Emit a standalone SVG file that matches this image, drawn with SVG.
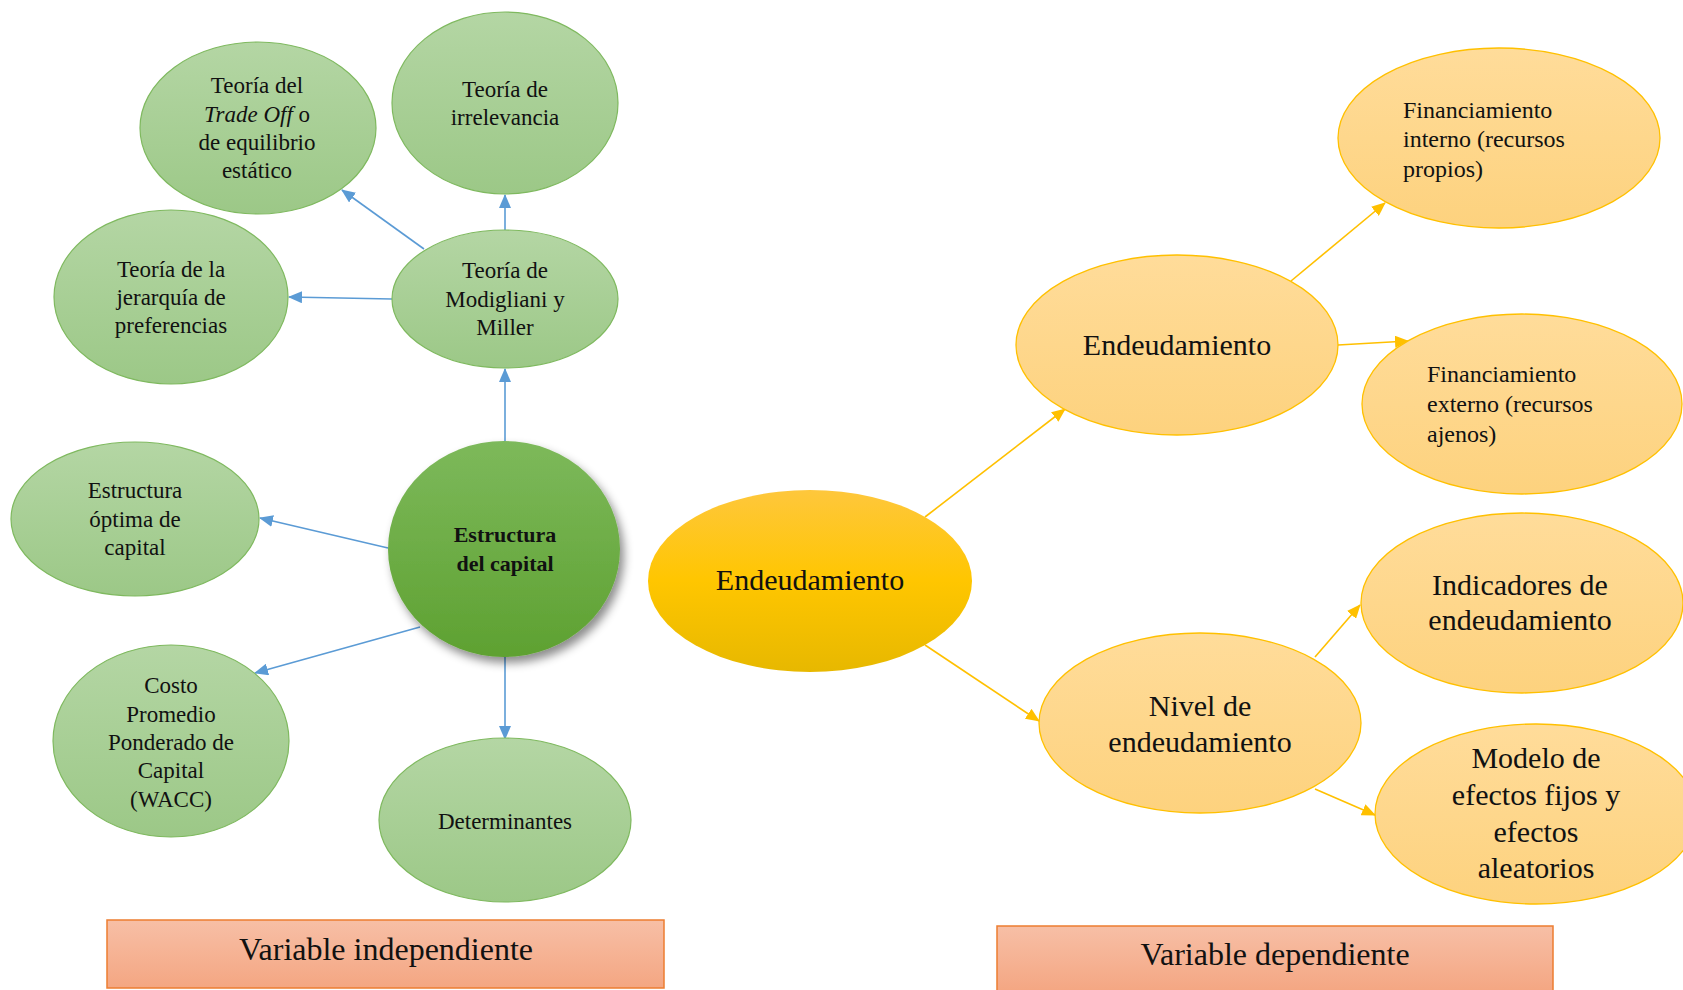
<svg xmlns="http://www.w3.org/2000/svg" width="1683" height="990" viewBox="0 0 1683 990">
<defs>
<linearGradient id="gLight" x1="0" y1="0" x2="0" y2="1"><stop offset="0" stop-color="#B4D6A4"/><stop offset="1" stop-color="#9CC887"/></linearGradient>
<linearGradient id="gMain" x1="0" y1="0" x2="0" y2="1"><stop offset="0" stop-color="#7DB95B"/><stop offset="1" stop-color="#5EA131"/></linearGradient>
<linearGradient id="yLight" x1="0" y1="0" x2="0" y2="1"><stop offset="0" stop-color="#FFDC9A"/><stop offset="1" stop-color="#FDD27E"/></linearGradient>
<linearGradient id="yMain" x1="0" y1="0" x2="0" y2="1"><stop offset="0" stop-color="#FEC73C"/><stop offset="0.5" stop-color="#FFC600"/><stop offset="1" stop-color="#E7B800"/></linearGradient>
<linearGradient id="oBox" x1="0" y1="0" x2="0" y2="1"><stop offset="0" stop-color="#F7BFA6"/><stop offset="1" stop-color="#F4A682"/></linearGradient>
<filter id="shadow" x="-20%" y="-20%" width="150%" height="150%"><feDropShadow dx="4" dy="6" stdDeviation="5" flood-color="#000" flood-opacity="0.45"/></filter>
<marker id="aBlue" markerWidth="14" markerHeight="12" refX="13" refY="6" orient="auto" markerUnits="userSpaceOnUse"><path d="M0,0 L14,6 L0,12 Z" fill="#5B9BD5"/></marker>
<marker id="aYel" markerWidth="14" markerHeight="12" refX="13" refY="6" orient="auto" markerUnits="userSpaceOnUse"><path d="M0,0 L14,6 L0,12 Z" fill="#FFC000"/></marker>
</defs>
<style>
.g{fill:url(#gLight);stroke:#7FB95F;stroke-width:1.2}
.gm{fill:url(#gMain);stroke:none}
.y{fill:url(#yLight);stroke:#FFC000;stroke-width:1.3}
.ym{fill:url(#yMain);stroke:none}
.box{fill:url(#oBox);stroke:#ED7D31;stroke-width:1.5}
text{font-family:"Liberation Serif","Times New Roman",serif;fill:#111}
.t{font-size:23px;text-anchor:middle}
.tb{font-size:22px;font-weight:bold;text-anchor:middle}
.tl{font-size:30px;text-anchor:middle}
.tf{font-size:24px;text-anchor:start}
.tv{font-size:32px;text-anchor:middle}
.cb{stroke:#5B9BD5;stroke-width:1.6;fill:none;marker-end:url(#aBlue)}
.cy{stroke:#FFC000;stroke-width:1.6;fill:none;marker-end:url(#aYel)}
</style>
<rect width="1683" height="990" fill="#fff"/>
<g id="connectors">
<line class="cb" x1="505" y1="441" x2="505" y2="369"/>
<line class="cb" x1="505" y1="230" x2="505" y2="195"/>
<line class="cb" x1="424" y1="249" x2="342" y2="190"/>
<line class="cb" x1="392" y1="299" x2="289" y2="297"/>
<line class="cb" x1="388" y1="548" x2="260" y2="518"/>
<line class="cb" x1="420" y1="627" x2="255" y2="673"/>
<line class="cb" x1="505" y1="657" x2="505" y2="739"/>
<line class="cy" x1="925" y1="517" x2="1065" y2="409"/>
<line class="cy" x1="925" y1="645" x2="1039" y2="721"/>
<line class="cy" x1="1291" y1="281" x2="1385" y2="203"/>
<line class="cy" x1="1338" y1="345" x2="1408" y2="341"/>
<line class="cy" x1="1315" y1="657" x2="1360" y2="605"/>
<line class="cy" x1="1315" y1="789" x2="1375" y2="815"/>
</g>
<g id="n-tradeoff"><ellipse class="g" cx="258" cy="128" rx="118" ry="86"/>
<text class="t" x="257" y="93">Teoría del</text>
<text class="t" x="257" y="122"><tspan font-style="italic">Trade Off</tspan> o</text>
<text class="t" x="257" y="150">de equilibrio</text>
<text class="t" x="257" y="178">estático</text></g>
<g id="n-irrelevancia"><ellipse class="g" cx="505" cy="103" rx="113" ry="91"/>
<text class="t" x="505" y="97">Teoría de</text>
<text class="t" x="505" y="125">irrelevancia</text></g>
<g id="n-modigliani"><ellipse class="g" cx="505" cy="299" rx="113" ry="69"/>
<text class="t" x="505" y="278">Teoría de</text>
<text class="t" x="505" y="307">Modigliani y</text>
<text class="t" x="505" y="335">Miller</text></g>
<g id="n-jerarquia"><ellipse class="g" cx="171" cy="297" rx="117" ry="87"/>
<text class="t" x="171" y="277">Teoría de la</text>
<text class="t" x="171" y="305">jerarquía de</text>
<text class="t" x="171" y="333">preferencias</text></g>
<g id="n-optima"><ellipse class="g" cx="135" cy="519" rx="124" ry="77"/>
<text class="t" x="135" y="498">Estructura</text>
<text class="t" x="135" y="527">óptima de</text>
<text class="t" x="135" y="555">capital</text></g>
<g id="n-estructura"><ellipse class="gm" cx="504" cy="549" rx="116" ry="108" filter="url(#shadow)"/>
<text class="tb" x="505" y="542">Estructura</text>
<text class="tb" x="505" y="571">del capital</text></g>
<g id="n-wacc"><ellipse class="g" cx="171" cy="741" rx="118" ry="96"/>
<text class="t" x="171" y="693">Costo</text>
<text class="t" x="171" y="722">Promedio</text>
<text class="t" x="171" y="750">Ponderado de</text>
<text class="t" x="171" y="778">Capital</text>
<text class="t" x="171" y="807">(WACC)</text></g>
<g id="n-determinantes"><ellipse class="g" cx="505" cy="820" rx="126" ry="82"/>
<text class="t" x="505" y="829">Determinantes</text></g>
<g id="n-endeudamiento-main"><ellipse class="ym" cx="810" cy="581" rx="162" ry="91"/>
<text class="tl" x="810" y="590">Endeudamiento</text></g>
<g id="n-endeudamiento"><ellipse class="y" cx="1177" cy="345" rx="161" ry="90"/>
<text class="tl" x="1177" y="355">Endeudamiento</text></g>
<g id="n-nivel"><ellipse class="y" cx="1200" cy="723" rx="161" ry="90"/>
<text class="tl" x="1200" y="716">Nivel de</text>
<text class="tl" x="1200" y="752">endeudamiento</text></g>
<g id="n-interno"><ellipse class="y" cx="1499" cy="138" rx="161" ry="90"/>
<text class="tf" x="1403" y="118">Financiamiento</text>
<text class="tf" x="1403" y="147">interno (recursos</text>
<text class="tf" x="1403" y="177">propios)</text></g>
<g id="n-externo"><ellipse class="y" cx="1522" cy="404" rx="160" ry="90"/>
<text class="tf" x="1427" y="382">Financiamiento</text>
<text class="tf" x="1427" y="412">externo (recursos</text>
<text class="tf" x="1427" y="442">ajenos)</text></g>
<g id="n-indicadores"><ellipse class="y" cx="1522" cy="603" rx="161" ry="90"/>
<text class="tl" x="1520" y="595">Indicadores de</text>
<text class="tl" x="1520" y="630">endeudamiento</text></g>
<g id="n-modelo"><ellipse class="y" cx="1536" cy="814" rx="161" ry="90"/>
<text class="tl" x="1536" y="768">Modelo de</text>
<text class="tl" x="1536" y="805">efectos fijos y</text>
<text class="tl" x="1536" y="842">efectos</text>
<text class="tl" x="1536" y="878">aleatorios</text></g>
<g id="n-var-indep"><rect class="box" x="107" y="920" width="557" height="68"/>
<text class="tv" x="386" y="960">Variable independiente</text></g>
<g id="n-var-dep"><rect class="box" x="997" y="926" width="556" height="66"/>
<text class="tv" x="1275" y="965">Variable dependiente</text></g>
</svg>
